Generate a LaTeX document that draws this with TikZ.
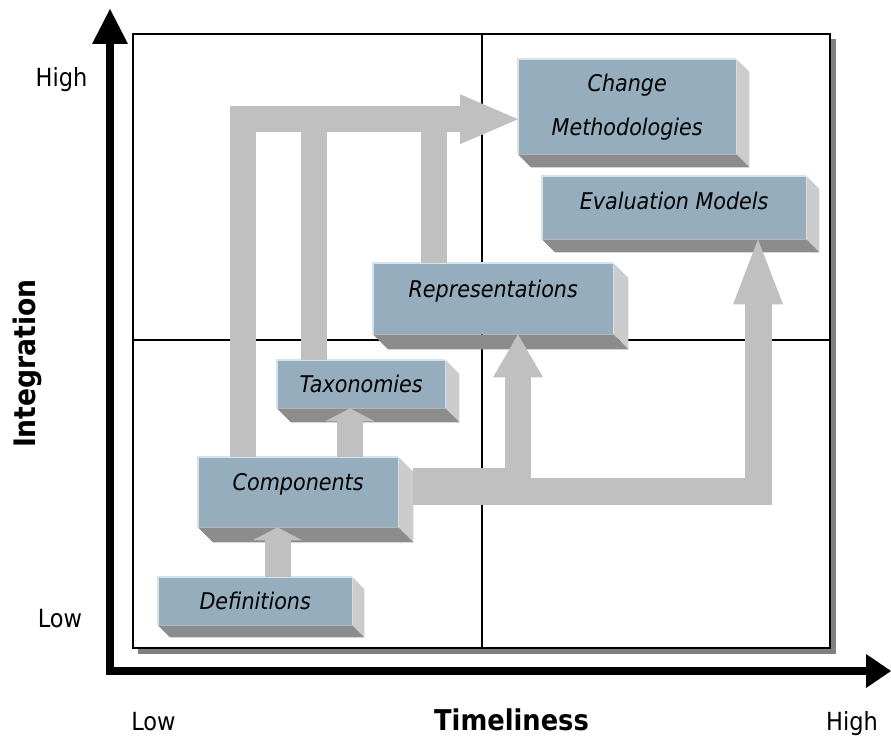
\documentclass[tikz,border=0pt]{standalone}
\usepackage{fontspec}
\setmainfont{DejaVu Sans Condensed}[ItalicFont={DejaVu Sans Condensed Oblique},BoldFont={DejaVu Sans Condensed Bold}]
\usetikzlibrary{arrows.meta}
\definecolor{slabface}{HTML}{95ADBC}
\definecolor{slabside}{HTML}{CCCCCC}
\definecolor{slabbase}{HTML}{8C8C8C}
\definecolor{slabedge}{HTML}{D3E4EE}
\definecolor{flowgray}{HTML}{C0C0C0}
\definecolor{shadowgray}{HTML}{808080}
\tikzset{
  slab/.style={fill=slabface, anchor=north west, inner sep=0pt, font=\fontsize{23}{44}\selectfont\itshape},
  lift/.style={text height=17pt, text depth=#1},
  lift/.default=0pt,
  flow/.style={draw=flowgray, line width=26pt, line join=miter},
  axislabel/.style={anchor=base, font=\fontsize{25}{30}\selectfont},
  axistitle/.style={anchor=base, font=\fontsize{#1}{33}\selectfont\bfseries},
}
\begin{document}
\begin{tikzpicture}[x=1pt,y=-1pt]
    \useasboundingbox (0,0) rectangle (891,738);
    % frame and quadrants
    \fill[shadowgray] (138,39) rectangle (836,654);
    \draw[line width=1.5pt, fill=white] (133,34) rectangle (830,648);
    \draw[line width=1.5pt] (482,34) -- (482,648) (133,340) -- (830,340);
    % axes
    \draw[line width=8pt, line join=miter, {Triangle[width=36pt,length=35pt,line width=0pt]}-{Triangle[width=34pt,length=25pt,line width=0pt]}] (110,9) -- (110,671) -- (891,671);
    \node[axislabel] (yhigh) at (61.5,87) {High};
    \node[axislabel] (ylow) at (60,627) {Low};
    \node[axislabel] (xlow) at (153.5,730) {Low};
    \node[axislabel] (xhigh) at (852,730) {High};
    \node[axistitle=28.6] (xtitle) at (511.5,730) {Timeliness};
    \node[axistitle=29.6, rotate=90] (ytitle) at (35,363.5) {Integration};
    % boxes
    \node[slab, lift, minimum width=194pt, minimum height=48pt] (defs) at (158,577) {Definitions};
    \node[slab, lift=21pt, minimum width=200pt, minimum height=70pt] (comp) at (198,457) {Components};
    \node[slab, lift, minimum width=168pt, minimum height=48pt] (tax) at (277,360) {Taxonomies};
    \node[slab, lift=20pt, minimum width=240pt, minimum height=71pt] (rep) at (373,263) {Representations};
    \node[slab, align=center, minimum width=218pt, minimum height=95pt] (chm) at (518,59) {Change\\Methodologies};
    \node[slab, lift=14pt, minimum width=264pt, minimum height=63pt] (eval) at (542,176) {Evaluation Models};
    \foreach \n/\d in {defs/12, comp/15, tax/14, rep/15, chm/13, eval/13}
    {
        \fill[slabside] (\n.north east) -- ++(\d,\d) -- ([shift={(\d,\d)}]\n.south east) -- (\n.south east) -- cycle;
        \fill[slabbase] (\n.south west) -- ++(\d,\d) -- ([shift={(\d,\d)}]\n.south east) -- (\n.south east) -- cycle;
        \draw[slabedge, line width=1.5pt] (\n.south west) -- (\n.north west) -- (\n.north east);
    }
    % flows
    \draw[flow, -{Triangle[width=50pt,length=58pt,line width=0pt]}] (242.5,0 |- comp.north) |- ([shift={(0,12.5)}]chm.west);
    \draw[flow] (314,0 |- tax.north) -- (314,119);
    \draw[flow] (434,0 |- rep.north) -- (434,119);
    \draw[flow, -{Triangle[width=50pt,length=13pt,line width=0pt]}] (277.5,0 |- defs.north) -- (277.5,0 |- comp.south);
    \draw[flow, -{Triangle[width=50pt,length=13pt,line width=0pt]}] (350,0 |- comp.north) -- (350,0 |- tax.south);
    \draw[flow, line width=27pt, -{Triangle[width=50pt,length=65pt,line width=0pt]}] ([shift={(15,-0.5)}]comp.east) -| (758,0 |- eval.south);
    \draw[flow, -{Triangle[width=50pt,length=43pt,line width=0pt]}] ([shift={(15,-11)}]comp.east) -| (518,0 |- rep.south);
\end{tikzpicture}
\end{document}
